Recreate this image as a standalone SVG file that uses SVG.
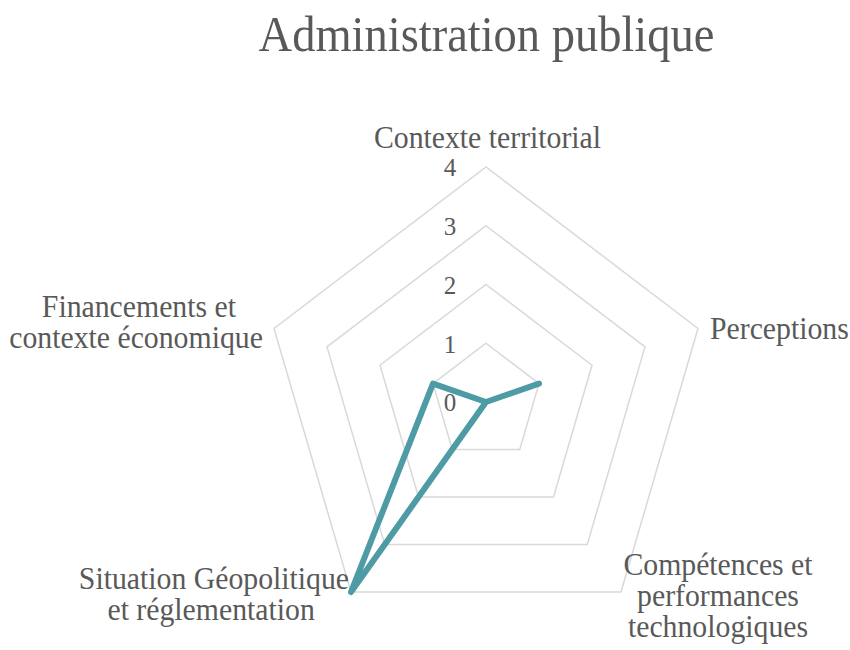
<svg xmlns="http://www.w3.org/2000/svg" width="850" height="650" viewBox="0 0 850 650">
<style>
text{fill:#595959}
.title{font-size:50px;text-anchor:middle}
.lbl{font-size:31px;text-anchor:middle}
.tick{font-size:25px;text-anchor:middle}
.grid{fill:none;stroke:#d9d9d9;stroke-width:1.5}
.series{fill:none;stroke:#4e9aa5;stroke-width:6;stroke-linejoin:round;stroke-linecap:round}
</style>
<rect width="850" height="650" fill="#ffffff"/>
<g font-family="Liberation Serif, Times New Roman, serif">
<g id="title"><text class="title" transform="translate(486.5,51) scale(0.93,1)">Administration publique</text></g>
<g id="grid">
<polygon class="grid" points="486,343.25 539,383.6 519.75,449.5 452.25,449.5 433,383.6"/>
<polygon class="grid" points="486,284.5 592,365.25 553.5,497 418.5,497 380,365.25"/>
<polygon class="grid" points="486,225.75 645,346.9 587.25,544.5 384.75,544.5 327,346.9"/>
<polygon class="grid" points="486,167 698,328.5 621,592 351,592 274,328.5"/>
</g>
<g id="ticks">
<text class="tick" x="450" y="176">4</text>
<text class="tick" x="450" y="235">3</text>
<text class="tick" x="450" y="294">2</text>
<text class="tick" x="450" y="353">1</text>
<text class="tick" x="450" y="411">0</text>
</g>
<g id="connectors">
<polygon class="series" points="486,402 539,383.6 486,402 351,592 433,383.6"/>
</g>
<g id="axis-contexte-territorial"><text class="lbl" transform="translate(487.5,148) scale(0.96,1)">Contexte territorial</text></g>
<g id="axis-perceptions"><text class="lbl" transform="translate(710,339) scale(0.96,1)" style="text-anchor:start">Perceptions</text></g>
<g id="axis-competences"><text class="lbl" transform="translate(718,575) scale(0.96,1)"><tspan x="0" y="0">Compétences et</tspan><tspan x="0" y="31">performances</tspan><tspan x="0" y="62">technologiques</tspan></text></g>
<g id="axis-situation"><text class="lbl" transform="translate(213,589) scale(0.96,1)"><tspan x="1" y="0">Situation Géopolitique</tspan><tspan x="-2" y="31">et réglementation</tspan></text></g>
<g id="axis-financements"><text class="lbl" transform="translate(137,317) scale(0.96,1)"><tspan x="2" y="0">Financements et</tspan><tspan x="-1" y="31">contexte économique</tspan></text></g>
</g>
</svg>
